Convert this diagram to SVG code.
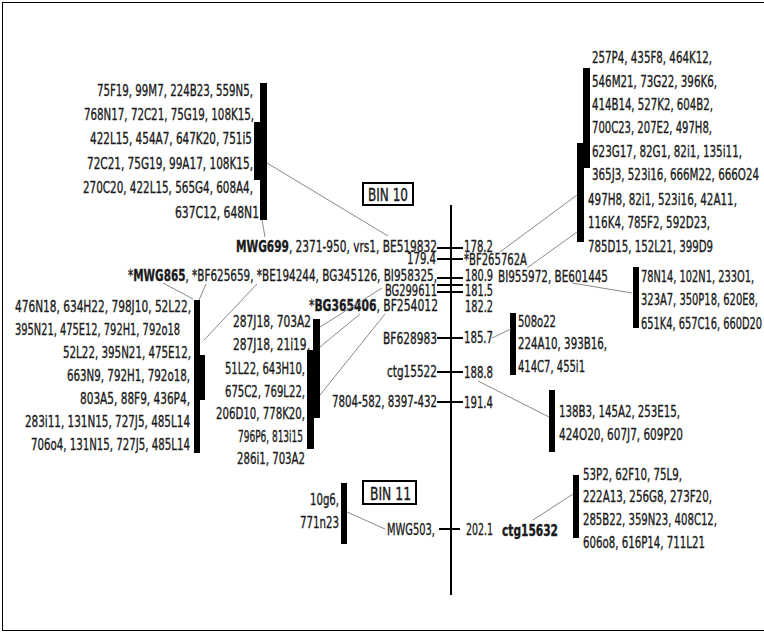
<svg xmlns="http://www.w3.org/2000/svg" width="764" height="633" viewBox="0 0 764 633">
<style>
text{font-family:"Liberation Sans Narrow","DejaVu Sans Condensed","Liberation Sans",sans-serif;font-size:16px;fill:#1a1a1a;stroke:#1a1a1a;stroke-width:0.35px}
.b{font-weight:bold}
.bin{font-size:17px}
.bar{fill:#000}
.con line{stroke:#8a8a8a;stroke-width:1}
.tick{stroke:#000;stroke-width:2}
.box{fill:none;stroke:#000;stroke-width:2}
</style>
<rect x="2.5" y="2.5" width="770" height="628" fill="#fff" stroke="#000" stroke-width="1"/>

<g id="axis">
<line x1="451" y1="205" x2="451" y2="595" stroke="#000" stroke-width="2"/>
<line class="tick" x1="437" y1="248" x2="463" y2="248"/>
<line class="tick" x1="437" y1="259" x2="463" y2="259"/>
<line class="tick" x1="437" y1="278" x2="463" y2="278"/>
<line class="tick" x1="437" y1="285" x2="463" y2="285"/>
<line class="tick" x1="437" y1="292" x2="463" y2="292"/>
<line class="tick" x1="437" y1="338" x2="463" y2="338"/>
<line class="tick" x1="437" y1="372" x2="463" y2="372"/>
<line class="tick" x1="437" y1="402" x2="463" y2="402"/>
<line class="tick" x1="439" y1="529" x2="460" y2="529"/>
</g>

<g id="bin10"><rect class="box" x="363" y="183" width="50" height="22"/><text class="bin" x="368" y="201" textLength="40" lengthAdjust="spacingAndGlyphs">BIN 10</text></g>
<g id="bin11"><rect class="box" x="363" y="481" width="53" height="23"/><text class="bin" x="370" y="500" textLength="41" lengthAdjust="spacingAndGlyphs">BIN 11</text></g>

<g id="markers">
<text x="236" y="252" textLength="201" lengthAdjust="spacingAndGlyphs"><tspan class="b">MWG699</tspan>, 2371-950, vrs1, BE519832</text>
<text x="464" y="252" textLength="29" lengthAdjust="spacingAndGlyphs">178.2</text>
<text x="407" y="264" textLength="29" lengthAdjust="spacingAndGlyphs">179.4</text>
<text x="464" y="265" textLength="63" lengthAdjust="spacingAndGlyphs">*BF265762A</text>
<text x="128" y="281" textLength="309" lengthAdjust="spacingAndGlyphs">*<tspan class="b">MWG865</tspan>, *BF625659, *BE194244, BG345126, BI958325,</text>
<text x="465" y="281" textLength="28" lengthAdjust="spacingAndGlyphs">180.9</text>
<text x="498" y="282" textLength="110" lengthAdjust="spacingAndGlyphs">BI955972, BE601445</text>
<text x="385" y="296" textLength="52" lengthAdjust="spacingAndGlyphs">BG299611</text>
<text x="465" y="296" textLength="28" lengthAdjust="spacingAndGlyphs">181.5</text>
<text x="309" y="311" textLength="129" lengthAdjust="spacingAndGlyphs">*<tspan class="b">BG365406</tspan>, BF254012</text>
<text x="465" y="312" textLength="28" lengthAdjust="spacingAndGlyphs">182.2</text>
<text x="383" y="344" textLength="54" lengthAdjust="spacingAndGlyphs">BF628983</text>
<text x="464" y="343" textLength="29" lengthAdjust="spacingAndGlyphs">185.7</text>
<text x="387" y="377" textLength="50" lengthAdjust="spacingAndGlyphs">ctg15522</text>
<text x="464" y="378" textLength="29" lengthAdjust="spacingAndGlyphs">188.8</text>
<text x="332" y="407" textLength="105" lengthAdjust="spacingAndGlyphs">7804-582, 8397-432</text>
<text x="464" y="408" textLength="29" lengthAdjust="spacingAndGlyphs">191.4</text>
<text x="387" y="535" textLength="48" lengthAdjust="spacingAndGlyphs">MWG503,</text>
<text x="466" y="535" textLength="27" lengthAdjust="spacingAndGlyphs">202.1</text>
<text class="b" x="502" y="536" textLength="56" lengthAdjust="spacingAndGlyphs">ctg15632</text>
</g>

<g id="contig-upper-left">
<rect class="bar" x="260" y="83" width="7" height="137"/>
<rect class="bar" x="254" y="122" width="7" height="58"/>
<text x="97" y="96" textLength="156" lengthAdjust="spacingAndGlyphs">75F19, 99M7, 224B23, 559N5,</text>
<text x="84" y="120" textLength="170" lengthAdjust="spacingAndGlyphs">768N17, 72C21, 75G19, 108K15,</text>
<text x="90" y="144" textLength="162" lengthAdjust="spacingAndGlyphs">422L15, 454A7, 647K20, 751i5</text>
<text x="87" y="169" textLength="166" lengthAdjust="spacingAndGlyphs">72C21, 75G19, 99A17, 108K15,</text>
<text x="83" y="193" textLength="170" lengthAdjust="spacingAndGlyphs">270C20, 422L15, 565G4, 608A4,</text>
<text x="175" y="218" textLength="84" lengthAdjust="spacingAndGlyphs">637C12, 648N1</text>
</g>

<g id="contig-upper-right">
<rect class="bar" x="583" y="68" width="7" height="100"/>
<rect class="bar" x="577" y="143" width="7" height="99"/>
<text x="592" y="63" textLength="120" lengthAdjust="spacingAndGlyphs">257P4, 435F8, 464K12,</text>
<text x="592" y="87" textLength="125" lengthAdjust="spacingAndGlyphs">546M21, 73G22, 396K6,</text>
<text x="592" y="110" textLength="121" lengthAdjust="spacingAndGlyphs">414B14, 527K2, 604B2,</text>
<text x="592" y="133" textLength="120" lengthAdjust="spacingAndGlyphs">700C23, 207E2, 497H8,</text>
<text x="592" y="157" textLength="150" lengthAdjust="spacingAndGlyphs">623G17, 82G1, 82i1, 135i11,</text>
<text x="592" y="180" textLength="167" lengthAdjust="spacingAndGlyphs">365J3, 523i16, 666M22, 666O24</text>
<text x="588" y="205" textLength="149" lengthAdjust="spacingAndGlyphs">497H8, 82i1, 523i16, 42A11,</text>
<text x="588" y="228" textLength="122" lengthAdjust="spacingAndGlyphs">116K4, 785F2, 592D23,</text>
<text x="588" y="252" textLength="125" lengthAdjust="spacingAndGlyphs">785D15, 152L21, 399D9</text>
</g>

<g id="contig-right-middle">
<rect class="bar" x="633" y="267" width="6" height="61"/>
<text x="641" y="282" textLength="113" lengthAdjust="spacingAndGlyphs">78N14, 102N1, 233O1,</text>
<text x="641" y="305" textLength="117" lengthAdjust="spacingAndGlyphs">323A7, 350P18, 620E8,</text>
<text x="641" y="329" textLength="121" lengthAdjust="spacingAndGlyphs">651K4, 657C16, 660D20</text>
</g>

<g id="contig-left-lower">
<rect class="bar" x="194" y="300" width="6" height="153"/>
<rect class="bar" x="199" y="355" width="6" height="45"/>
<text x="15" y="312" textLength="176" lengthAdjust="spacingAndGlyphs">476N18, 634H22, 798J10, 52L22,</text>
<text x="15" y="335" textLength="165" lengthAdjust="spacingAndGlyphs">395N21, 475E12, 792H1, 792o18</text>
<text x="63" y="358" textLength="128" lengthAdjust="spacingAndGlyphs">52L22, 395N21, 475E12,</text>
<text x="67" y="381" textLength="123" lengthAdjust="spacingAndGlyphs">663N9, 792H1, 792o18,</text>
<text x="80" y="404" textLength="110" lengthAdjust="spacingAndGlyphs">803A5, 88F9, 436P4,</text>
<text x="25" y="427" textLength="165" lengthAdjust="spacingAndGlyphs">283i11, 131N15, 727J5, 485L14</text>
<text x="31" y="450" textLength="159" lengthAdjust="spacingAndGlyphs">706o4, 131N15, 727J5, 485L14</text>
</g>

<g id="contig-middle">
<rect class="bar" x="313" y="319" width="7" height="99"/>
<rect class="bar" x="307" y="350" width="7" height="99"/>
<text x="233" y="327" textLength="78" lengthAdjust="spacingAndGlyphs">287J18, 703A2</text>
<text x="233" y="350" textLength="77" lengthAdjust="spacingAndGlyphs">287J18, 21i19,</text>
<text x="225" y="374" textLength="80" lengthAdjust="spacingAndGlyphs">51L22, 643H10,</text>
<text x="225" y="397" textLength="80" lengthAdjust="spacingAndGlyphs">675C2, 769L22,</text>
<text x="216" y="419" textLength="89" lengthAdjust="spacingAndGlyphs">206D10, 778K20,</text>
<text x="238" y="442" textLength="65" lengthAdjust="spacingAndGlyphs">796P6, 813i15</text>
<text x="237" y="464" textLength="68" lengthAdjust="spacingAndGlyphs">286i1, 703A2</text>
</g>

<g id="contig-508o22">
<rect class="bar" x="510" y="313" width="6" height="62"/>
<text x="518" y="327" textLength="38" lengthAdjust="spacingAndGlyphs">508o22</text>
<text x="518" y="349" textLength="89" lengthAdjust="spacingAndGlyphs">224A10, 393B16,</text>
<text x="518" y="372" textLength="67" lengthAdjust="spacingAndGlyphs">414C7, 455i1</text>
</g>

<g id="contig-138B3">
<rect class="bar" x="549" y="390" width="6" height="62"/>
<text x="559" y="417" textLength="121" lengthAdjust="spacingAndGlyphs">138B3, 145A2, 253E15,</text>
<text x="559" y="440" textLength="124" lengthAdjust="spacingAndGlyphs">424O20, 607J7, 609P20</text>
</g>

<g id="contig-lower-right">
<rect class="bar" x="573" y="475" width="6" height="63"/>
<text x="583" y="480" textLength="99" lengthAdjust="spacingAndGlyphs">53P2, 62F10, 75L9,</text>
<text x="583" y="502" textLength="129" lengthAdjust="spacingAndGlyphs">222A13, 256G8, 273F20,</text>
<text x="583" y="525" textLength="134" lengthAdjust="spacingAndGlyphs">285B22, 359N23, 408C12,</text>
<text x="583" y="548" textLength="122" lengthAdjust="spacingAndGlyphs">606o8, 616P14, 711L21</text>
</g>

<g id="contig-lower-left">
<rect class="bar" x="341" y="483" width="6" height="61"/>
<text x="310" y="505" textLength="29" lengthAdjust="spacingAndGlyphs">10g6,</text>
<text x="300" y="528" textLength="39" lengthAdjust="spacingAndGlyphs">771n23</text>
</g>

<g id="connectors" class="con">
<line x1="267" y1="163" x2="388" y2="236"/>
<line x1="262" y1="220" x2="265" y2="237"/>
<line x1="577" y1="195" x2="500" y2="252"/>
<line x1="577" y1="232" x2="527" y2="268"/>
<line x1="572" y1="283" x2="632" y2="293"/>
<line x1="163" y1="283" x2="193" y2="299"/>
<line x1="206" y1="284" x2="199" y2="300"/>
<line x1="257" y1="284" x2="204" y2="340"/>
<line x1="320" y1="327" x2="382" y2="288"/>
<line x1="320" y1="347" x2="360" y2="314"/>
<line x1="320" y1="395" x2="385" y2="314"/>
<line x1="492" y1="338" x2="511" y2="329"/>
<line x1="478" y1="381" x2="549" y2="417"/>
<line x1="533" y1="520" x2="573" y2="494"/>
<line x1="347" y1="512" x2="385" y2="529"/>
</g>
</svg>
